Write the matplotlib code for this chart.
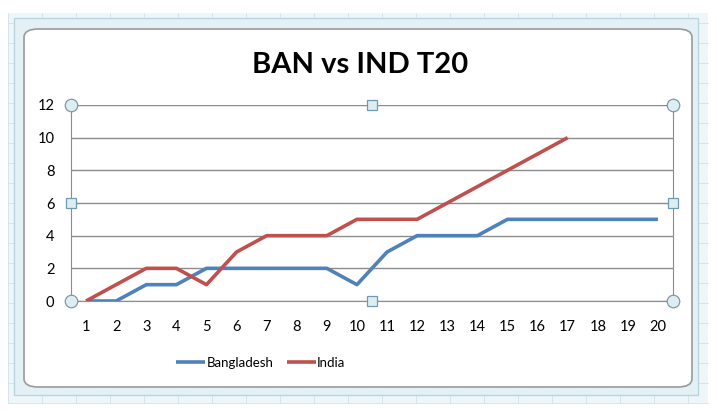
import matplotlib
matplotlib.use("Agg")
import matplotlib.pyplot as plt
from matplotlib.patches import FancyBboxPatch, Rectangle

# ---- Data ----
overs = list(range(1, 21))
bangladesh = [0, 0, 1, 1, 2, 2, 2, 2, 2, 1, 3, 4, 4, 4, 5, 5, 5, 5, 5, 5]
india = [0, 1, 2, 2, 1, 3, 4, 4, 4, 5, 5, 5, 6, 7, 8, 9, 10]
y_ticks = [0, 2, 4, 6, 8, 10, 12]

blue = "#4f81bd"
red = "#c0504d"
grid = "#8c8c8c"

plt.rcParams["font.family"] = ["Lato", "DejaVu Sans"]

fig = plt.figure(figsize=(7.2, 4.11), dpi=100)
fig.patch.set_facecolor("white")

# spreadsheet grid look behind the chart
fig.add_artist(Rectangle((8 / 720, 8 / 411), 700 / 720, 390 / 411,
                         transform=fig.transFigure, facecolor="#eef6f9",
                         edgecolor="none", zorder=-6))
for gx in range(8, 710, 34):
    fig.add_artist(plt.Line2D([gx / 720, gx / 720], [8 / 411, 398 / 411],
                              color="#cfe3ea", lw=0.6, zorder=-5))
for gy in range(8, 400, 20):
    fig.add_artist(plt.Line2D([8 / 720, 708 / 720], [gy / 411, gy / 411],
                              color="#cfe3ea", lw=0.6, zorder=-5))

# selection frame + chart area
fig.add_artist(Rectangle((14 / 720, 16 / 411), 684 / 720, 377 / 411,
                         transform=fig.transFigure, facecolor="#e3f1f6",
                         edgecolor="#b9d5e0", lw=1, zorder=-4))
fig.add_artist(FancyBboxPatch((24 / 720, 24 / 411), 668 / 720, 358 / 411,
                              boxstyle="round,pad=0,rounding_size=0.02",
                              transform=fig.transFigure, facecolor="white",
                              edgecolor="#9a9a9a", lw=1.2, zorder=-3))

ax = fig.add_axes([71 / 720, 1 - 301 / 411, 602 / 720, 196 / 411])
ax.set_facecolor("none")

ax.plot(overs, bangladesh, color=blue, lw=2.6, label="Bangladesh", solid_capstyle="butt")
ax.plot(overs[:len(india)], india, color=red, lw=2.6, label="India", solid_capstyle="butt")

ax.set_xlim(0.5, 20.5)
ax.set_ylim(0, 12)
ax.set_xticks(overs)
ax.set_yticks(y_ticks)
ax.tick_params(axis="both", length=0, labelsize=10.5, colors="black")
ax.tick_params(axis="x", pad=14)
ax.tick_params(axis="y", pad=12)
for t in y_ticks:
    ax.axhline(t, color=grid, lw=1, zorder=0)
ax.spines["top"].set_visible(False)
for s in ["left", "bottom", "right"]:
    ax.spines[s].set_color(grid)

# plot-area selection handles
for hx, hy in [(0, 0), (0, 1), (1, 0), (1, 1)]:
    ax.plot(hx, hy, "o", ms=9, mfc="#ddeef2", mec="#7f9aa6", mew=0.9,
            transform=ax.transAxes, clip_on=False, zorder=5)
for hx, hy in [(0.5, 0), (0.5, 1), (0, 0.5), (1, 0.5)]:
    ax.plot(hx, hy, "s", ms=7, mfc="#ddeef2", mec="#6f9ab0", mew=0.9,
            transform=ax.transAxes, clip_on=False, zorder=5)

fig.text(0.5, 1 - 65 / 411, "BAN vs IND T20", ha="center", va="center",
         fontsize=21, fontweight="bold")

fig.legend(loc="center", bbox_to_anchor=(0.3625, 1 - 363 / 411), ncol=2,
           frameon=False, fontsize=9.5, handlelength=2.2, handletextpad=0.1,
           columnspacing=1.0)

fig.savefig("out.png", dpi=100)
